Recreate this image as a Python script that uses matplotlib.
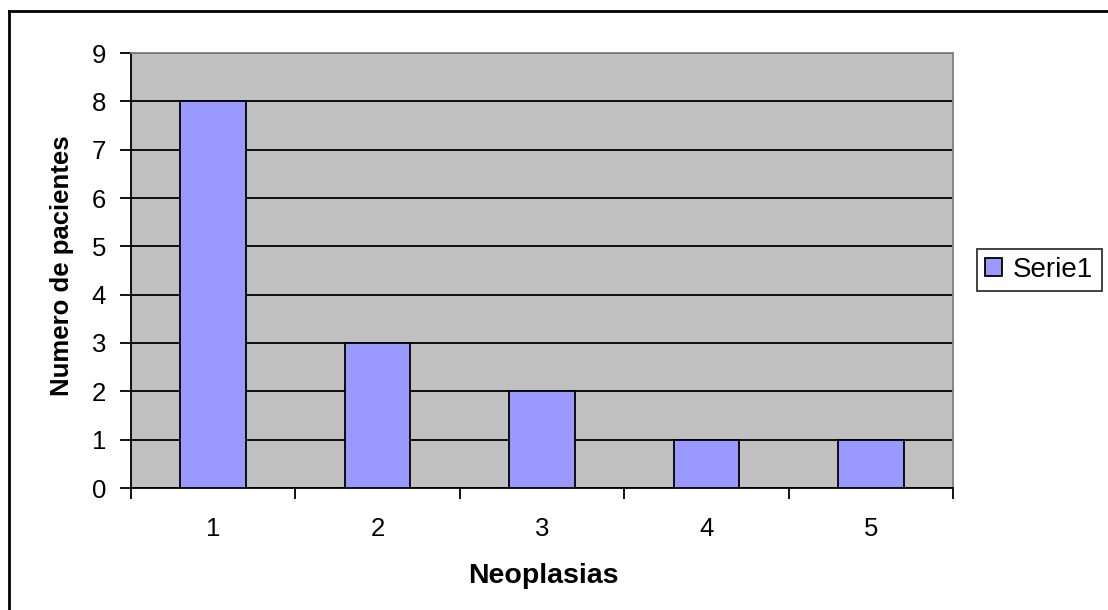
import matplotlib
matplotlib.use("Agg")
import matplotlib.pyplot as plt
from matplotlib.lines import Line2D

categories = [1, 2, 3, 4, 5]
values = [8, 3, 2, 1, 1]
series_name = "Serie1"
xlabel = "Neoplasias"
ylabel = "Numero de pacientes"

plt.rcParams['font.family'] = ['Liberation Sans', 'DejaVu Sans']

W, H = 1108, 610
fig = plt.figure(figsize=(W / 100, H / 100), dpi=100)
ax = fig.add_axes([131 / W, 1 - 488 / H, (953 - 131) / W, (488 - 53) / H])
ax.set_facecolor('#C0C0C0')

ax.set_ylim(0, 9)
ax.set_xlim(0.5, 5.5)
ax.set_yticks(range(0, 10))
ax.yaxis.grid(True, color='black', linewidth=1.3)
ax.set_axisbelow(True)

bars = ax.bar(categories, values, width=0.4, color='#9999FF', edgecolor='black',
              linewidth=1.3, label=series_name, zorder=3)

ax.set_xticks([c - 0.5 for c in categories] + [categories[-1] + 0.5])
ax.set_xticklabels([])
ax.set_xticks(categories, minor=True)
ax.set_xticklabels([str(c) for c in categories], minor=True)
ax.tick_params(axis='x', which='major', length=8, width=1.3, direction='out')
ax.tick_params(axis='x', which='minor', length=0, pad=21, labelsize=18.5)
ax.tick_params(axis='y', length=8, width=1.3, direction='out', pad=10, labelsize=18.5)

for s in ['left', 'bottom']:
    ax.spines[s].set_color('black')
    ax.spines[s].set_linewidth(1.3)
for s in ['top', 'right']:
    ax.spines[s].set_color('#808080')
    ax.spines[s].set_linewidth(1.3)

fig.text(543 / W, 1 - 576 / H, xlabel, ha='center', va='center',
         fontsize=20.5, fontweight='bold')
fig.text(62 / W, 1 - 266 / H, ylabel, ha='center', va='center',
         rotation=90, fontsize=18.5, fontweight='bold')

leg = fig.legend(handles=[bars], labels=[series_name], loc='center left',
                 bbox_to_anchor=(977 / W, 1 - 270 / H), fontsize=20,
                 frameon=True, fancybox=False, edgecolor='black',
                 handlelength=0.6, handleheight=0.6, handletextpad=0.4,
                 borderpad=0.3, borderaxespad=0)
leg.get_frame().set_linewidth(1.3)

# outer chart border (left and top visible)
fig.add_artist(Line2D([9 / W, 9 / W], [0, 1 - 11 / H], color='black', linewidth=2,
                      transform=fig.transFigure))
fig.add_artist(Line2D([9 / W, 1], [1 - 11 / H, 1 - 11 / H], color='black', linewidth=2,
                      transform=fig.transFigure))

fig.savefig('out.png', dpi=100)
